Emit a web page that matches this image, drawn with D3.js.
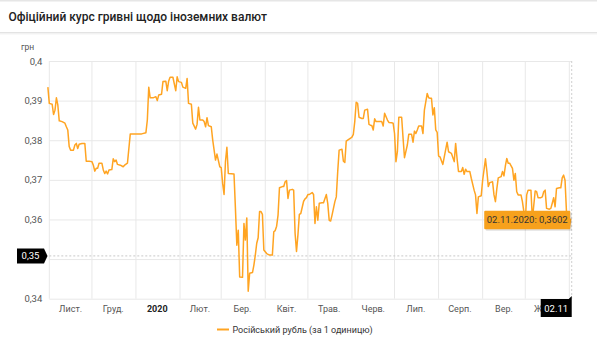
<!DOCTYPE html>
<html lang="uk">
<head>
<meta charset="utf-8">
<script src="https://cdn.jsdelivr.net/npm/d3@7"></script>
<style>
  html, body { margin: 0; padding: 0; background: #fff; }
  svg { display: block; font-family: Roboto, "Noto Sans", sans-serif; }
</style>
</head>
<body>
<svg id="chart" width="597" height="350"></svg>
<script>
// Official NBU rate: Russian rouble (per 1 unit), UAH
const rubRates = [
  ["2019-10-31", 0.3934], ["2019-11-01", 0.3893], ["2019-11-03", 0.3891], ["2019-11-04", 0.3865],
  ["2019-11-05", 0.3876], ["2019-11-06", 0.3907], ["2019-11-07", 0.3889], ["2019-11-08", 0.3849],
  ["2019-11-10", 0.3847], ["2019-11-12", 0.3843], ["2019-11-13", 0.3834], ["2019-11-14", 0.3826],
  ["2019-11-15", 0.3784], ["2019-11-16", 0.3775], ["2019-11-18", 0.3775], ["2019-11-19", 0.3788],
  ["2019-11-20", 0.3792], ["2019-11-21", 0.3779], ["2019-11-22", 0.3790], ["2019-11-24", 0.3792],
  ["2019-11-26", 0.3792], ["2019-11-27", 0.3747], ["2019-11-29", 0.3747], ["2019-12-01", 0.3746],
  ["2019-12-02", 0.3737], ["2019-12-03", 0.3722], ["2019-12-04", 0.3729], ["2019-12-05", 0.3729],
  ["2019-12-06", 0.3742], ["2019-12-08", 0.3742], ["2019-12-09", 0.3725], ["2019-12-10", 0.3716],
  ["2019-12-11", 0.3722], ["2019-12-12", 0.3715], ["2019-12-13", 0.3725], ["2019-12-15", 0.3726],
  ["2019-12-16", 0.3753], ["2019-12-17", 0.3746], ["2019-12-18", 0.3750], ["2019-12-19", 0.3739],
  ["2019-12-21", 0.3737], ["2019-12-23", 0.3733], ["2019-12-24", 0.3737], ["2019-12-26", 0.3742],
  ["2019-12-28", 0.3816], ["2019-12-31", 0.3816], ["2020-01-05", 0.3816], ["2020-01-08", 0.3819],
  ["2020-01-09", 0.3851], ["2020-01-10", 0.3934], ["2020-01-11", 0.3907], ["2020-01-13", 0.3907],
  ["2020-01-15", 0.3910], ["2020-01-16", 0.3900], ["2020-01-17", 0.3914], ["2020-01-19", 0.3916],
  ["2020-01-20", 0.3948], ["2020-01-22", 0.3949], ["2020-01-23", 0.3925], ["2020-01-24", 0.3949],
  ["2020-01-25", 0.3959], ["2020-01-27", 0.3959], ["2020-01-29", 0.3925], ["2020-01-30", 0.3960],
  ["2020-01-31", 0.3948], ["2020-02-02", 0.3946], ["2020-02-03", 0.3934], ["2020-02-05", 0.3931],
  ["2020-02-06", 0.3956], ["2020-02-07", 0.3893], ["2020-02-09", 0.3891], ["2020-02-10", 0.3843],
  ["2020-02-12", 0.3828], ["2020-02-13", 0.3840], ["2020-02-14", 0.3883], ["2020-02-15", 0.3851],
  ["2020-02-17", 0.3851], ["2020-02-18", 0.3847], ["2020-02-19", 0.3834], ["2020-02-20", 0.3857],
  ["2020-02-21", 0.3837], ["2020-02-23", 0.3834], ["2020-02-24", 0.3801], ["2020-02-26", 0.3750],
  ["2020-02-27", 0.3765], ["2020-02-29", 0.3733], ["2020-03-01", 0.3731], ["2020-03-02", 0.3691],
  ["2020-03-03", 0.3663], ["2020-03-04", 0.3747], ["2020-03-05", 0.3782], ["2020-03-06", 0.3716],
  ["2020-03-10", 0.3715], ["2020-03-11", 0.3628], ["2020-03-12", 0.3535], ["2020-03-13", 0.3573],
  ["2020-03-14", 0.3455], ["2020-03-16", 0.3454], ["2020-03-17", 0.3590], ["2020-03-18", 0.3548],
  ["2020-03-19", 0.3604], ["2020-03-20", 0.3419], ["2020-03-21", 0.3464], ["2020-03-23", 0.3466],
  ["2020-03-24", 0.3485], ["2020-03-25", 0.3510], ["2020-03-26", 0.3540], ["2020-03-27", 0.3554],
  ["2020-03-28", 0.3620], ["2020-03-29", 0.3620], ["2020-03-30", 0.3613], ["2020-03-31", 0.3523],
  ["2020-04-02", 0.3514], ["2020-04-04", 0.3510], ["2020-04-06", 0.3510], ["2020-04-07", 0.3569],
  ["2020-04-08", 0.3572], ["2020-04-09", 0.3583], ["2020-04-10", 0.3611], ["2020-04-11", 0.3680],
  ["2020-04-13", 0.3683], ["2020-04-14", 0.3683], ["2020-04-15", 0.3695], ["2020-04-16", 0.3698],
  ["2020-04-17", 0.3653], ["2020-04-18", 0.3674], ["2020-04-20", 0.3676], ["2020-04-21", 0.3674],
  ["2020-04-22", 0.3565], ["2020-04-23", 0.3519], ["2020-04-24", 0.3561], ["2020-04-25", 0.3613],
  ["2020-04-26", 0.3615], ["2020-04-28", 0.3646], ["2020-04-29", 0.3652], ["2020-04-30", 0.3655],
  ["2020-05-01", 0.3663], ["2020-05-02", 0.3663], ["2020-05-04", 0.3668], ["2020-05-05", 0.3663],
  ["2020-05-06", 0.3590], ["2020-05-07", 0.3632], ["2020-05-08", 0.3598], ["2020-05-09", 0.3641],
  ["2020-05-11", 0.3642], ["2020-05-12", 0.3642], ["2020-05-14", 0.3663], ["2020-05-15", 0.3640],
  ["2020-05-16", 0.3598], ["2020-05-17", 0.3596], ["2020-05-18", 0.3611], ["2020-05-20", 0.3645],
  ["2020-05-21", 0.3657], ["2020-05-22", 0.3721], ["2020-05-23", 0.3775], ["2020-05-25", 0.3777],
  ["2020-05-26", 0.3747], ["2020-05-27", 0.3744], ["2020-05-28", 0.3798], ["2020-05-30", 0.3803],
  ["2020-05-31", 0.3805], ["2020-06-01", 0.3808], ["2020-06-02", 0.3815], ["2020-06-03", 0.3847],
  ["2020-06-04", 0.3896], ["2020-06-05", 0.3893], ["2020-06-06", 0.3858], ["2020-06-08", 0.3855],
  ["2020-06-09", 0.3855], ["2020-06-10", 0.3876], ["2020-06-12", 0.3878], ["2020-06-13", 0.3840],
  ["2020-06-14", 0.3838], ["2020-06-15", 0.3837], ["2020-06-16", 0.3826], ["2020-06-17", 0.3854],
  ["2020-06-18", 0.3847], ["2020-06-20", 0.3847], ["2020-06-22", 0.3847], ["2020-06-23", 0.3836],
  ["2020-06-24", 0.3868], ["2020-06-26", 0.3851], ["2020-06-27", 0.3845], ["2020-06-29", 0.3844],
  ["2020-06-30", 0.3843], ["2020-07-01", 0.3817], ["2020-07-02", 0.3746], ["2020-07-03", 0.3771],
  ["2020-07-04", 0.3858], ["2020-07-06", 0.3858], ["2020-07-07", 0.3805], ["2020-07-08", 0.3756],
  ["2020-07-10", 0.3788], ["2020-07-11", 0.3815], ["2020-07-13", 0.3815], ["2020-07-14", 0.3795],
  ["2020-07-15", 0.3823], ["2020-07-16", 0.3817], ["2020-07-17", 0.3826], ["2020-07-18", 0.3836],
  ["2020-07-20", 0.3836], ["2020-07-21", 0.3817], ["2020-07-22", 0.3876], ["2020-07-24", 0.3918],
  ["2020-07-25", 0.3907], ["2020-07-26", 0.3906], ["2020-07-27", 0.3906], ["2020-07-28", 0.3864],
  ["2020-07-29", 0.3882], ["2020-07-30", 0.3826], ["2020-07-31", 0.3820], ["2020-08-01", 0.3760],
  ["2020-08-02", 0.3758], ["2020-08-04", 0.3739], ["2020-08-05", 0.3758], ["2020-08-07", 0.3795],
  ["2020-08-08", 0.3771], ["2020-08-10", 0.3767], ["2020-08-12", 0.3746], ["2020-08-13", 0.3792],
  ["2020-08-14", 0.3754], ["2020-08-15", 0.3721], ["2020-08-17", 0.3721], ["2020-08-18", 0.3731],
  ["2020-08-19", 0.3714], ["2020-08-20", 0.3727], ["2020-08-21", 0.3721], ["2020-08-23", 0.3721],
  ["2020-08-24", 0.3704], ["2020-08-26", 0.3674], ["2020-08-27", 0.3662], ["2020-08-28", 0.3615],
  ["2020-08-29", 0.3657], ["2020-08-31", 0.3660], ["2020-09-01", 0.3699], ["2020-09-03", 0.3753],
  ["2020-09-04", 0.3721], ["2020-09-05", 0.3683], ["2020-09-06", 0.3693], ["2020-09-08", 0.3695],
  ["2020-09-09", 0.3662], ["2020-09-10", 0.3645], ["2020-09-11", 0.3678], ["2020-09-12", 0.3705],
  ["2020-09-14", 0.3708], ["2020-09-15", 0.3721], ["2020-09-16", 0.3710], ["2020-09-17", 0.3735],
  ["2020-09-18", 0.3754], ["2020-09-19", 0.3742], ["2020-09-20", 0.3742], ["2020-09-22", 0.3729],
  ["2020-09-23", 0.3699], ["2020-09-24", 0.3716], ["2020-09-25", 0.3670], ["2020-09-26", 0.3662],
  ["2020-09-28", 0.3662], ["2020-09-29", 0.3645], ["2020-09-30", 0.3620], ["2020-10-01", 0.3594],
  ["2020-10-02", 0.3662], ["2020-10-03", 0.3674], ["2020-10-05", 0.3674], ["2020-10-06", 0.3600],
  ["2020-10-08", 0.3672], ["2020-10-09", 0.3670], ["2020-10-10", 0.3655], ["2020-10-12", 0.3655],
  ["2020-10-13", 0.3657], ["2020-10-14", 0.3670], ["2020-10-15", 0.3674], ["2020-10-16", 0.3628],
  ["2020-10-18", 0.3626], ["2020-10-19", 0.3628], ["2020-10-20", 0.3641], ["2020-10-21", 0.3655],
  ["2020-10-22", 0.3632], ["2020-10-23", 0.3678], ["2020-10-25", 0.3680], ["2020-10-26", 0.3680],
  ["2020-10-27", 0.3705], ["2020-10-28", 0.3712], ["2020-10-29", 0.3699], ["2020-10-30", 0.3620],
  ["2020-10-31", 0.3579], ["2020-11-01", 0.3579], ["2020-11-02", 0.3602]
];

// Month labels, placed mid-month
const monthLabels = [
  ["2019-11-16", "Лист."], ["2019-12-16", "Груд."], ["2020-01-16", "2020"],
  ["2020-02-15", "Лют."], ["2020-03-16", "Бер."], ["2020-04-16", "Квіт."],
  ["2020-05-16", "Трав."], ["2020-06-16", "Черв."], ["2020-07-16", "Лип."],
  ["2020-08-16", "Серп."], ["2020-09-16", "Вер."], ["2020-10-16", "Жовт."]
];
const yTicks = [0.34, 0.35, 0.36, 0.37, 0.38, 0.39, 0.40];
const yDomain = [0.34, 0.40];
const xDomain = ["2019-11-01", "2020-11-01"];
const crossValue = 0.3508;        // horizontal crosshair level
const seriesName = "Російський рубль (за 1 одиницю)";
const titleText = "Офіційний курс гривні щодо іноземних валют";
const unitText = "грн";

const parse = d3.timeParse("%Y-%m-%d");
const data = rubRates.map(([d, v]) => ({ date: parse(d), value: v }));
const last = data[data.length - 1];

const uaLocale = d3.formatLocale({ decimal: ",", thousands: " ", grouping: [3], currency: ["", " грн"] });
const fmtTick = uaLocale.format("~f");
const fmtVal = uaLocale.format(".4f");
const fmtCross = uaLocale.format(".2f");
const fmtDateFull = d3.timeFormat("%d.%m.%Y");
const fmtDateShort = d3.timeFormat("%d.%m");

const svg = d3.select("#chart");
const lineColor = "#ffa422";
const gridColor = "#e8e8e8";

const x = d3.scaleTime().domain(xDomain.map(parse)).range([49.3, 569.3]);
const y = d3.scaleLinear().domain(yDomain).range([298.7, 61]);
const xRight = x(last.date) + 1;

// Header
svg.append("rect").attr("x", 0).attr("y", 0).attr("width", 597).attr("height", 1.5).attr("fill", "#e6e6e6");
svg.append("text").attr("x", 8.5).attr("y", 20.5)
  .attr("font-size", 12).attr("font-weight", 500).attr("fill", "#222").text(titleText);
svg.append("rect").attr("x", 0).attr("y", 32).attr("width", 597).attr("height", 1.5).attr("fill", "#e3e3e3");
svg.append("rect").attr("x", 0).attr("y", 33.5).attr("width", 597).attr("height", 1).attr("fill", "#f3f3f3");

svg.append("text").attr("x", 21).attr("y", 50)
  .attr("font-size", 8.5).attr("fill", "#555").text(unitText);

// Horizontal grid + y labels (the crosshair box covers the 0,35 label)
const yAxis = d3.axisLeft(y).tickValues(yTicks).tickSize(-(xRight - 49.3)).tickPadding(7)
  .tickFormat(d => Math.abs(d - crossValue) < 0.005 ? "" : fmtTick(d));
const gy = svg.append("g").attr("transform", "translate(49.3,0)").call(yAxis);
gy.select(".domain").remove();
gy.selectAll(".tick line").attr("stroke", gridColor);
gy.selectAll(".tick text").attr("font-size", 9.5).attr("fill", "#555").attr("font-family", "Roboto, sans-serif");

// Vertical grid at month starts
const monthStarts = d3.timeMonth.range(parse(xDomain[0]), d3.timeDay.offset(parse(xDomain[1]), 1));
svg.append("g").selectAll("line").data(monthStarts).join("line")
  .attr("x1", d => x(d)).attr("x2", d => x(d))
  .attr("y1", y(yDomain[1])).attr("y2", y(yDomain[0]))
  .attr("stroke", gridColor);

// Month labels
svg.append("g").selectAll("text").data(monthLabels).join("text")
  .attr("x", d => x(parse(d[0]))).attr("y", 311.5)
  .attr("text-anchor", "middle")
  .attr("font-size", 9)
  .attr("font-weight", d => d[1] === "2020" ? 700 : 400)
  .attr("fill", d => d[1] === "2020" ? "#222" : "#555")
  .text(d => d[1]);

// Crosshairs
svg.append("line")
  .attr("x1", 49.3).attr("x2", xRight).attr("y1", y(crossValue)).attr("y2", y(crossValue))
  .attr("stroke", "#c8c8c8").attr("stroke-dasharray", "2,2");
svg.append("line")
  .attr("x1", x(last.date) + 1).attr("x2", x(last.date) + 1).attr("y1", y(yDomain[1])).attr("y2", y(yDomain[0]))
  .attr("stroke", "#cfcfcf").attr("stroke-dasharray", "2,2");

// Series line
const line = d3.line().x(d => x(d.date)).y(d => y(d.value));
svg.append("path").datum(data)
  .attr("d", line)
  .attr("fill", "none")
  .attr("stroke", lineColor)
  .attr("stroke-width", 1.5)
  .attr("stroke-linejoin", "round");

// Y crosshair label
const cy = y(crossValue);
svg.append("path")
  .attr("d", `M17,${cy - 7.5} H44 L47.5,${cy} L44,${cy + 7.5} H17 Z`)
  .attr("fill", "#000");
svg.append("text").attr("x", 30.5).attr("y", cy + 3.3).attr("text-anchor", "middle")
  .attr("font-size", 9.5).attr("fill", "#fff").text(fmtCross(crossValue));

// X crosshair label
const lx = x(last.date) + 1;
svg.append("path")
  .attr("d", `M${lx - 31},299 H${lx - 3} L${lx},296 V317 H${lx - 31} Z`)
  .attr("fill", "#000");
svg.append("text").attr("x", lx - 15.5).attr("y", 311.5).attr("text-anchor", "middle")
  .attr("font-size", 9.5).attr("fill", "#fff").text(fmtDateShort(last.date));

// Tooltip
const tipText = `${fmtDateFull(last.date)}: ${fmtVal(last.value)}`;
const tipRight = x(last.date) - 0.5;
const tipW = 86, tipH = 18.5, tipY = y(last.value) - 8;
const tip = svg.append("g");
tip.append("rect").attr("x", tipRight - tipW + 1.5).attr("y", tipY + 1.5)
  .attr("width", tipW).attr("height", tipH).attr("fill", "#000").attr("opacity", 0.12).attr("rx", 1);
tip.append("rect").attr("x", tipRight - tipW).attr("y", tipY)
  .attr("width", tipW).attr("height", tipH).attr("fill", "#f7a11c").attr("rx", 1);
tip.append("text").attr("x", tipRight - tipW / 2).attr("y", tipY + 12.6)
  .attr("text-anchor", "middle").attr("font-size", 9.5).attr("fill", "#333").text(tipText);

// Legend
svg.append("line").attr("x1", 217).attr("x2", 229).attr("y1", 329.5).attr("y2", 329.5)
  .attr("stroke", lineColor).attr("stroke-width", 2);
svg.append("text").attr("x", 232.5).attr("y", 333)
  .attr("font-size", 9).attr("fill", "#333").text(seriesName);
</script>
</body>
</html>
